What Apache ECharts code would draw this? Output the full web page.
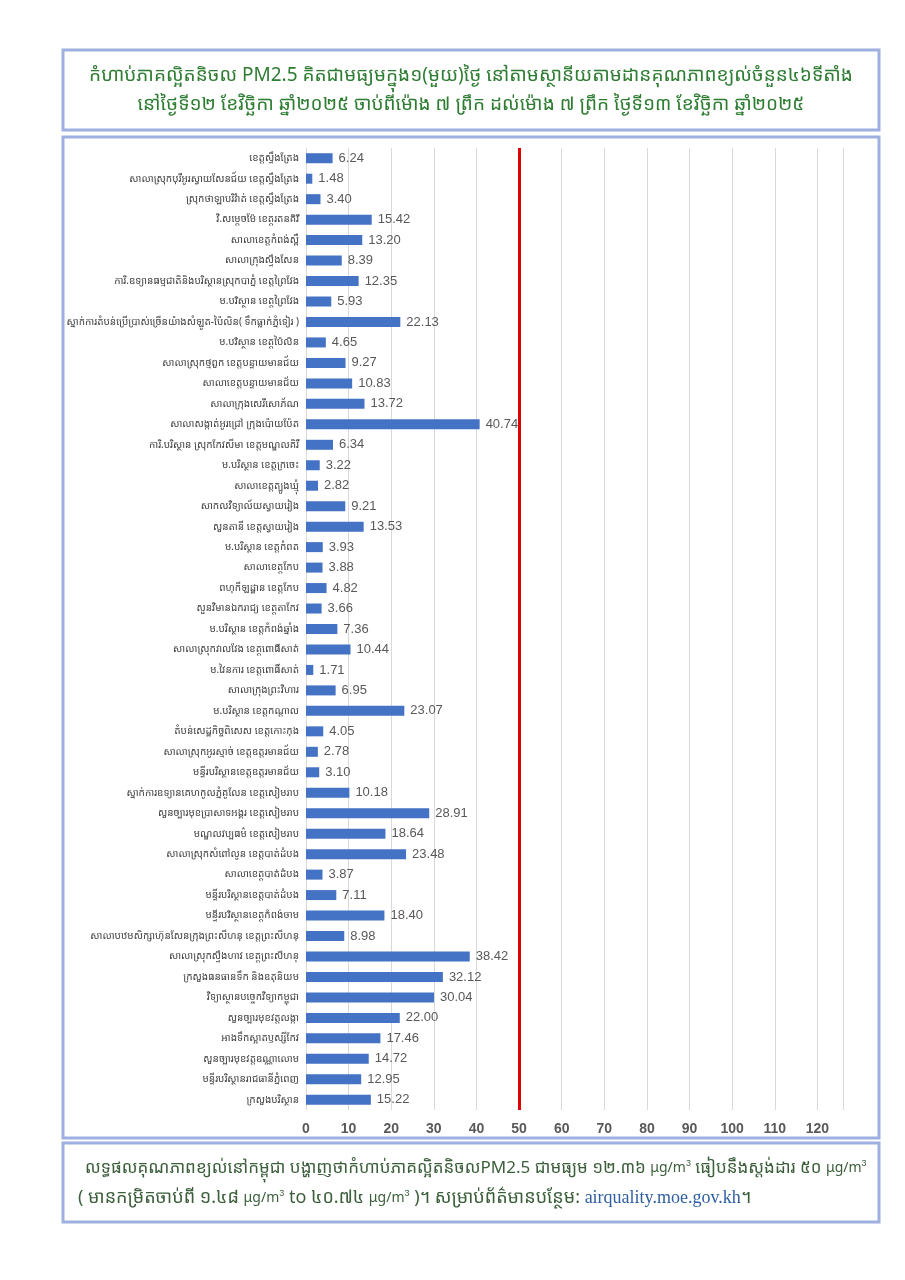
<!DOCTYPE html>
<html><head><meta charset="utf-8">
<script src="https://cdn.jsdelivr.net/npm/echarts@6/dist/echarts.min.js"></script>
<style>html,body{margin:0;padding:0;background:#fff}#c{width:905px;height:1280px}</style>
</head><body><div id="c"></div>
<script>
const titleLines = [
  'កំហាប់ភាគល្អិតនិចល PM2.5 គិតជាមធ្យមក្នុង១(មួយ)ថ្ងៃ នៅតាមស្ថានីយតាមដានគុណភាពខ្យល់ចំនួន៤៦ទីតាំង',
  'នៅថ្ងៃទី១២ ខែវិច្ឆិកា ឆ្នាំ២០២៥ ចាប់ពីម៉ោង ៧ ព្រឹក ដល់ម៉ោង ៧ ព្រឹក ថ្ងៃទី១៣ ខែវិច្ឆិកា ឆ្នាំ២០២៥'
];
const categories = [
  'ខេត្តស្ទឹងត្រែង',
  'សាលាស្រុកបុរីអូរស្វាយសែនជ័យ ខេត្តស្ទឹងត្រែង',
  'ស្រុកថាឡាបរិវ៉ាត់ ខេត្តស្ទឹងត្រែង',
  'វិ.សម្តេចម៉ែ ខេត្តរតនគិរី',
  'សាលាខេត្តកំពង់ស្ពឺ',
  'សាលាក្រុងស្ទឹងសែន',
  'ការិ.ឧទ្យានធម្មជាតិនិងបរិស្ថានស្រុកបាភ្នំ ខេត្តព្រៃវែង',
  'ម.បរិស្ថាន ខេត្តព្រៃវែង',
  'ស្នាក់ការតំបន់ប្រើប្រាស់ច្រើនយ៉ាងសំឡូត-ប៉ៃលិន( ទឹកធ្លាក់ភ្នំទៀរ )',
  'ម.បរិស្ថាន ខេត្តប៉ៃលិន',
  'សាលាស្រុកថ្មពួក ខេត្តបន្ទាយមានជ័យ',
  'សាលាខេត្តបន្ទាយមានជ័យ',
  'សាលាក្រុងសេរីសោភ័ណ',
  'សាលាសង្កាត់អូរជ្រៅ ក្រុងប៉ោយប៉ែត',
  'ការិ.បរិស្ថាន ស្រុកកែវសីមា ខេត្តមណ្ឌលគិរី',
  'ម.បរិស្ថាន ខេត្តក្រចេះ',
  'សាលាខេត្តត្បូងឃ្មុំ',
  'សាកលវិទ្យាល័យស្វាយរៀង',
  'សួនតានី ខេត្តស្វាយរៀង',
  'ម.បរិស្ថាន ខេត្តកំពត',
  'សាលាខេត្តកែប',
  'ពហុកីឡដ្ឋាន ខេត្តកែប',
  'សួនវិមានឯករាជ្យ ខេត្តតាកែវ',
  'ម.បរិស្ថាន ខេត្តកំពង់ឆ្នាំង',
  'សាលាស្រុកវាលវែង ខេត្តពោធិ៍សាត់',
  'ម.វៃនការ ខេត្តពោធិ៍សាត់',
  'សាលាក្រុងព្រះវិហារ',
  'ម.បរិស្ថាន ខេត្តកណ្ដាល',
  'តំបន់សេដ្ឋកិច្ចពិសេស ខេត្តកោះកុង',
  'សាលាស្រុកអូរស្មាច់ ខេត្តឧត្តរមានជ័យ',
  'មន្ទីរបរិស្ថានខេត្តឧត្តរមានជ័យ',
  'ស្នាក់ការឧទ្យានគេហកូលភ្នំគូលែន ខេត្តសៀមរាប',
  'សួនច្បារមុខប្រាសាទអង្គរ ខេត្តសៀមរាប',
  'មណ្ឌលវប្បធម៌ ខេត្តសៀមរាប',
  'សាលាស្រុកសំពៅលូន ខេត្តបាត់ដំបង',
  'សាលាខេត្តបាត់ដំបង',
  'មន្ទីរបរិស្ថានខេត្តបាត់ដំបង',
  'មន្ទីរបរិស្ថានខេត្តកំពង់ចាម',
  'សាលាបឋមសិក្សាហ៊ុនសែនក្រុងព្រះសីហនុ ខេត្តព្រះសីហនុ',
  'សាលាស្រុកស្ទឹងហាវ ខេត្តព្រះសីហនុ',
  'ក្រសួងធនធានទឹក និងឧតុនិយម',
  'វិទ្យាស្ថានបច្ចេកវិទ្យាកម្ពុជា',
  'សួនច្បារមុខវត្តលង្កា',
  'អាងទឹកស្អាតឫស្សីកែវ',
  'សួនច្បារមុខវត្តឧណ្ណាលោម',
  'មន្ទីរបរិស្ថានរាជធានីភ្នំពេញ',
  'ក្រសួងបរិស្ថាន'
];
const values = [6.24,1.48,3.40,15.42,13.20,8.39,12.35,5.93,22.13,4.65,9.27,10.83,13.72,40.74,6.34,3.22,2.82,9.21,13.53,3.93,3.88,4.82,3.66,7.36,10.44,1.71,6.95,23.07,4.05,2.78,3.10,10.18,28.91,18.64,23.48,3.87,7.11,18.40,8.98,38.42,32.12,30.04,22.00,17.46,14.72,12.95,15.22];
const standardValue = 50;
const xMax = 126;
const xInterval = 10;

const KH = '"Noto Sans Khmer","Khmer OS","Khmer OS System","Noto Sans",sans-serif';
const FOOT = '#3b5e3b';
const chart = echarts.init(document.getElementById('c'));
const boxStroke = '#9db0df';
chart.setOption({
  backgroundColor: '#ffffff',
  animation: false,
  grid: {left: 306, right: 62, top: 148, bottom: 170, containLabel: false},
  xAxis: {
    type: 'value', min: 0, max: xMax, interval: xInterval,
    axisLine: {show: false}, axisTick: {show: false},
    splitLine: {show: true, lineStyle: {color: '#d9d9d9', width: 1}},
    axisLabel: {showMaxLabel: false, color: '#595959', fontSize: 14, fontWeight: 'bold', fontFamily: 'Liberation Sans, Arial, sans-serif', margin: 12}
  },
  yAxis: {
    type: 'category', data: categories, inverse: true,
    axisLine: {show: false}, axisTick: {show: false},
    axisLabel: {color: '#404040', fontSize: 10, fontFamily: KH, margin: 7, interval: 0}
  },
  series: [{
    type: 'bar', data: values, barWidth: 10,
    itemStyle: {color: '#4472c4'},
    label: {show: true, position: 'right', distance: 6, color: '#595959', fontSize: 13, fontFamily: 'Liberation Sans, Arial, sans-serif', formatter: p => p.value.toFixed(2)},
    markLine: {
      silent: true, symbol: 'none', label: {show: false},
      lineStyle: {color: '#e00000', width: 3, type: 'solid'},
      data: [{xAxis: standardValue}]
    }
  }],
  graphic: [
    {type: 'rect', shape: {x: 63, y: 50, width: 816, height: 80}, style: {fill: 'none', stroke: boxStroke, lineWidth: 3}},
    {type: 'rect', shape: {x: 63, y: 137, width: 816, height: 1001}, style: {fill: 'none', stroke: boxStroke, lineWidth: 3}},
    {type: 'rect', shape: {x: 63, y: 1143, width: 816, height: 79}, style: {fill: 'none', stroke: boxStroke, lineWidth: 3}},
    {type: 'text', x: 471, y: 76, style: {text: titleLines[0], fill: '#2e7d32', font: '19px ' + KH, textAlign: 'center', textVerticalAlign: 'middle'}},
    {type: 'text', x: 471, y: 105, style: {text: titleLines[1], fill: '#2e7d32', font: '19px ' + KH, textAlign: 'center', textVerticalAlign: 'middle'}},
    {type: 'text', x: 85, y: 1168, style: {
      text: '{t|លទ្ធផលគុណភាពខ្យល់នៅកម្ពុជា បង្ហាញថាកំហាប់ភាគល្អិតនិចលPM2.5 ជាមធ្យម ១២.៣៦ }{u|μg/m}{s|3}{t| ធៀបនឹងស្តង់ដារ ៥០ }{u|μg/m}{s|3}',
      align: 'left', verticalAlign: 'middle',
      rich: {t: {fontSize: 17, fontFamily: KH, fill: FOOT}, u: {fontSize: 14, fontFamily: KH, fill: FOOT}, s: {fontSize: 9, fill: FOOT, verticalAlign: 'top', padding: [0,0,8,0]}}
    }},
    {type: 'text', x: 78, y: 1198, style: {
      text: '{t|( មានកម្រិតចាប់ពី ១.៤៨ }{u|μg/m}{s|3}{t| to ៤០.៧៤ }{u|μg/m}{s|3}{t| )។ សម្រាប់ព័ត៌មានបន្ថែម: }{l|airquality.moe.gov.kh}{t|។}',
      align: 'left', verticalAlign: 'middle',
      rich: {t: {fontSize: 18, fontFamily: KH, fill: FOOT}, u: {fontSize: 14, fontFamily: KH, fill: FOOT}, s: {fontSize: 9, fill: FOOT, verticalAlign: 'top', padding: [0,0,8,0]}, l: {fontSize: 18, fontFamily: '"Liberation Serif","DejaVu Serif",serif', fill: '#2f5fa0'}}
    }}
  ]
});
</script></body></html>
